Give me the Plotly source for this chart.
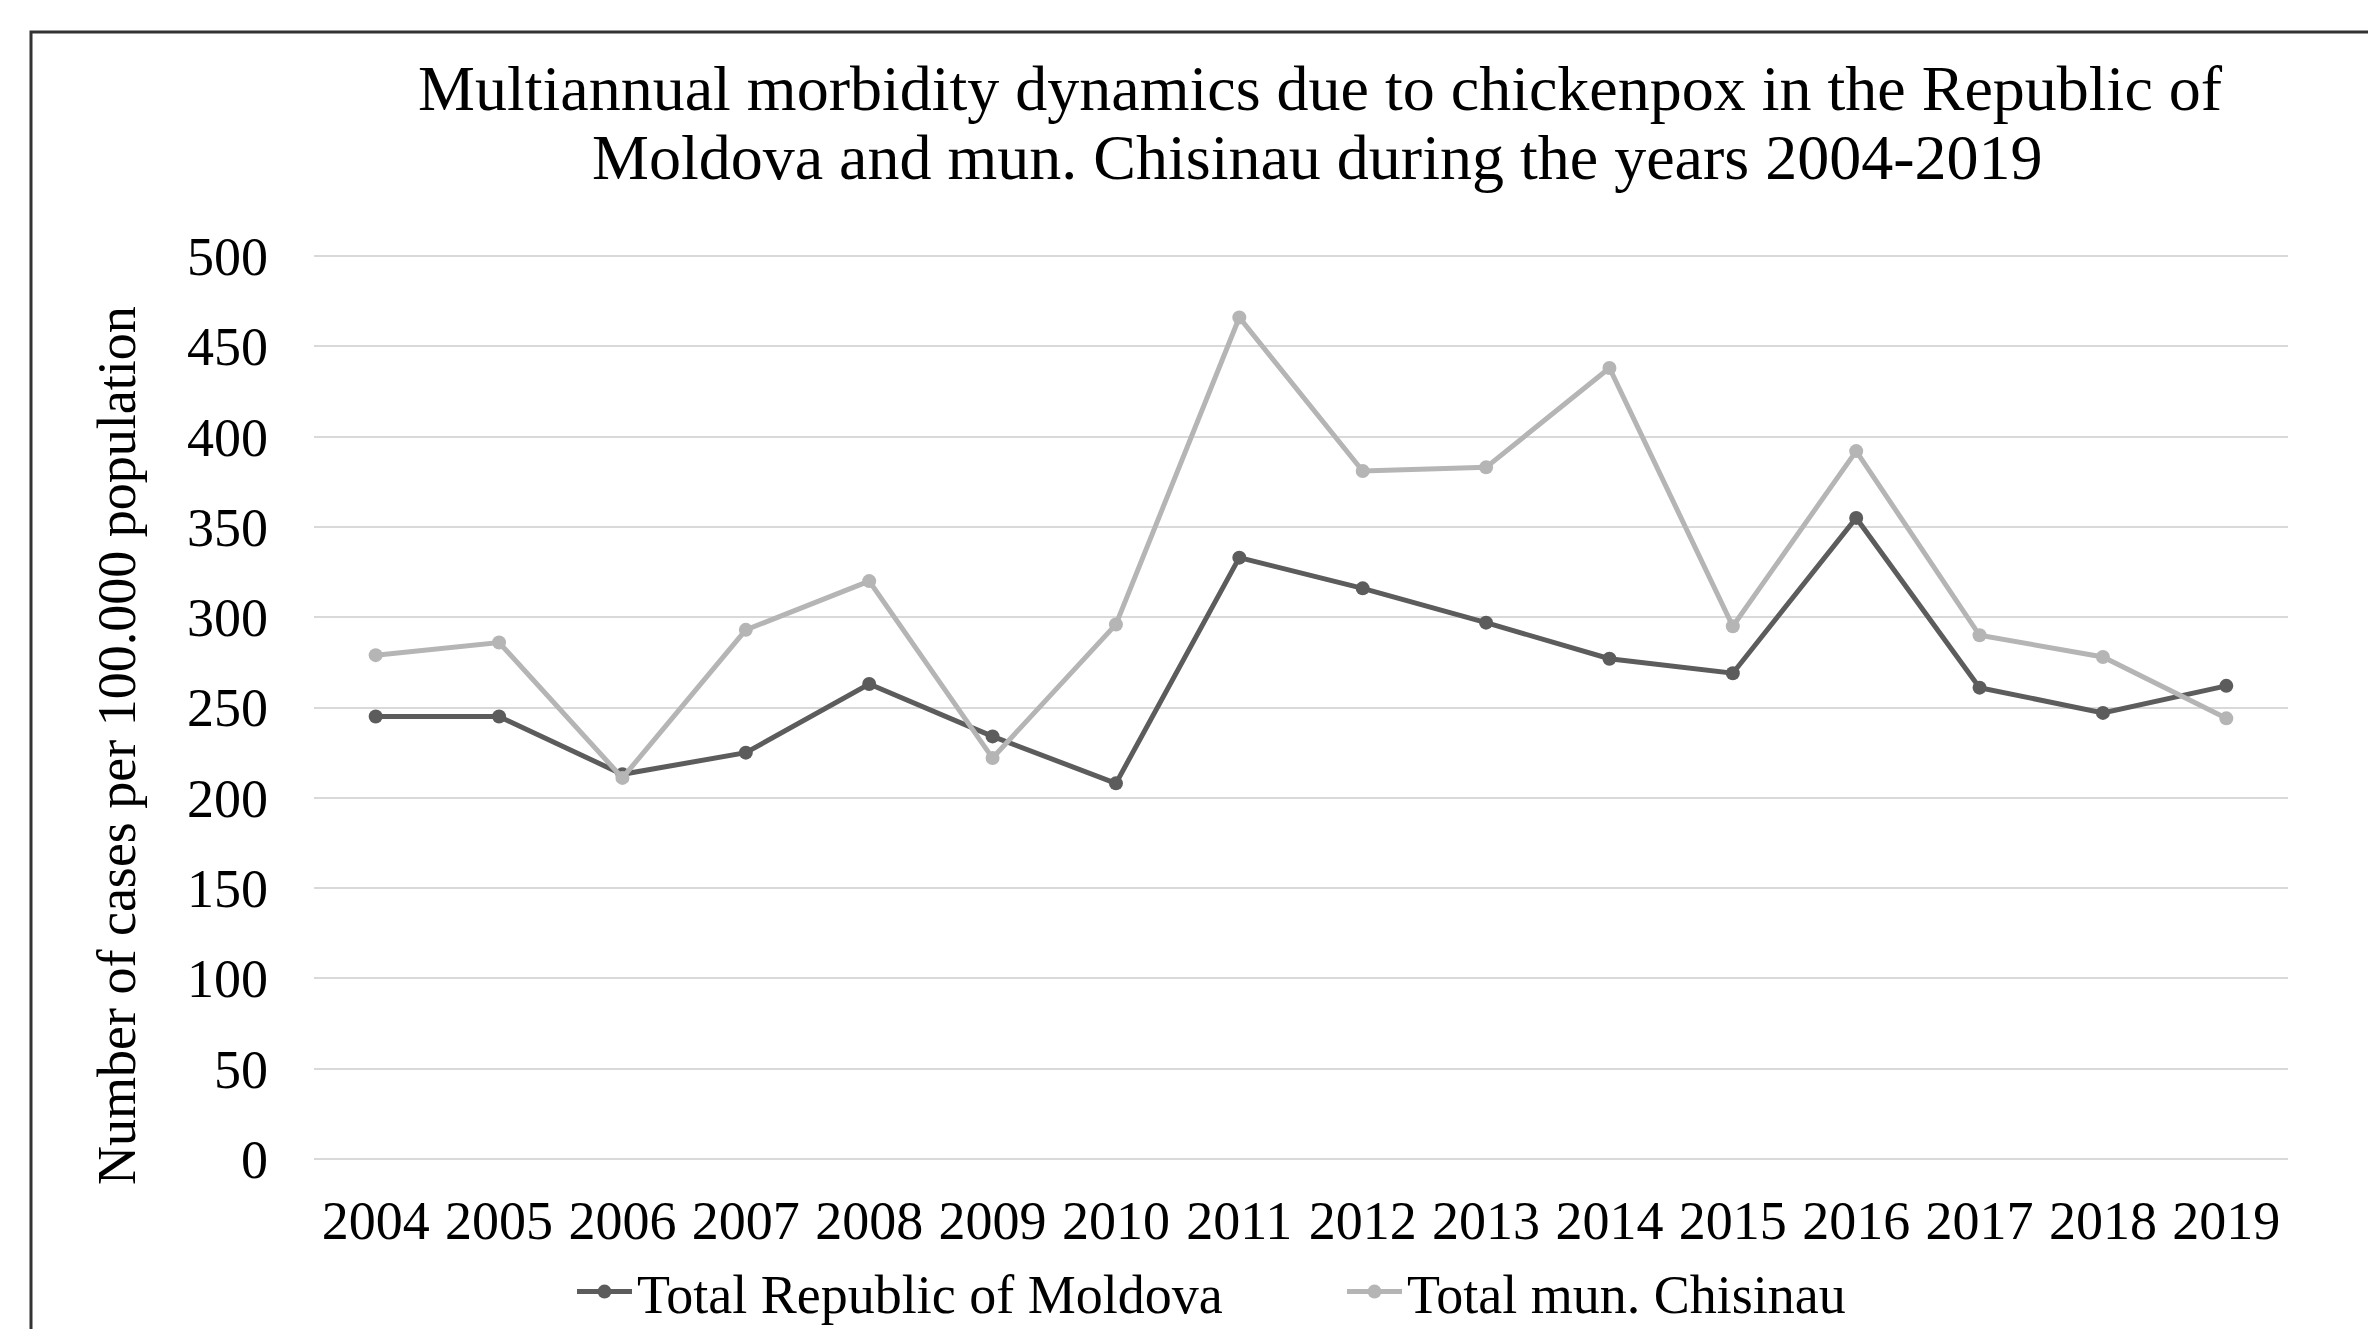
import plotly.graph_objects as go

years = ["2004", "2005", "2006", "2007", "2008", "2009", "2010", "2011",
         "2012", "2013", "2014", "2015", "2016", "2017", "2018", "2019"]
moldova = [245, 245, 213, 225, 263, 234, 208, 333, 316, 297, 277, 269, 355, 261, 247, 262]
chisinau = [279, 286, 211, 293, 320, 222, 296, 466, 381, 383, 438, 295, 392, 290, 278, 244]

name_moldova = "Total Republic of Moldova"
name_chisinau = "Total mun. Chisinau"
title_line1 = "Multiannual morbidity dynamics due to chickenpox in the Republic of"
title_line2 = "Moldova and mun. Chisinau during the years 2004-2019"
y_title = "Number of cases per 100.000 population"
y_ticks = [0, 50, 100, 150, 200, 250, 300, 350, 400, 450, 500]

FONT = "Liberation Serif, Times New Roman, serif"
W, H = 2376, 1329
OFF = 8  # page body margin in the browser
L, R, T, B = 306, 96, 247, 177
PW, PH = W - L - R, H - T - B

def px_x(x):
    return (x - OFF - L) / PW

def px_y(y):
    return (H - B - (y - OFF)) / PH

fig = go.Figure()
fig.add_trace(go.Scatter(
    x=years, y=moldova, name=name_moldova, mode="lines+markers",
    line=dict(color="#5c5c5c", width=5),
    marker=dict(symbol="circle", size=14, color="#5c5c5c"),
))
fig.add_trace(go.Scatter(
    x=years, y=chisinau, name=name_chisinau, mode="lines+markers",
    line=dict(color="#b5b5b5", width=5),
    marker=dict(symbol="circle", size=14, color="#b5b5b5"),
))

fig.update_layout(
    width=W, height=H,
    margin=dict(l=L, r=R, t=T, b=B, autoexpand=False),
    paper_bgcolor="white", plot_bgcolor="white",
    font=dict(family=FONT, size=54, color="black"),
    showlegend=True,
    legend=dict(
        orientation="h", x=px_x(572), xanchor="left",
        y=px_y(1292), yanchor="middle",
        font=dict(family=FONT, size=54, color="black"),
        entrywidth=700, itemwidth=55, bgcolor="rgba(0,0,0,0)",
    ),
    xaxis=dict(
        type="category", range=[-0.5, 15.5],
        showgrid=False, showline=False, zeroline=False,
        ticks="", tickfont=dict(family=FONT, size=54, color="black"),
        ticklabelstandoff=24,
    ),
    yaxis=dict(
        range=[-0.6, 500.6], tickvals=y_ticks,
        showgrid=True, gridcolor="#d9d9d9", gridwidth=2,
        zeroline=False, showline=False, ticks="",
        tickfont=dict(family=FONT, size=54, color="black"),
        ticklabelstandoff=45,
    ),
    annotations=[
        dict(text=title_line1, xref="paper", yref="paper",
             x=px_x(1320), y=px_y(88), xanchor="center", yanchor="middle",
             showarrow=False, font=dict(family=FONT, size=64, color="black")),
        dict(text=title_line2, xref="paper", yref="paper",
             x=px_x(1317), y=px_y(158), xanchor="center", yanchor="middle",
             showarrow=False, font=dict(family=FONT, size=64, color="black")),
        dict(text=y_title, xref="paper", yref="paper",
             x=px_x(117), y=px_y(746), xanchor="center", yanchor="middle",
             textangle=-90, showarrow=False,
             font=dict(family=FONT, size=54, color="black")),
    ],
    shapes=[
        dict(type="rect", xref="paper", yref="paper",
             x0=px_x(31), x1=px_x(2500), y0=px_y(1400), y1=px_y(32),
             line=dict(color="#333333", width=3), fillcolor="rgba(0,0,0,0)",
             layer="below"),
    ],
)

fig.write_html("out.html")
